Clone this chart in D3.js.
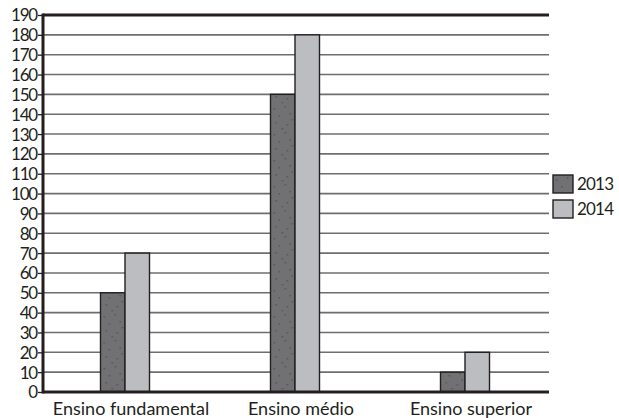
<!DOCTYPE html>
<html><head><meta charset="utf-8">
<script src="https://cdn.jsdelivr.net/npm/d3@7/dist/d3.min.js"></script>
<style>body{margin:0;background:#fff}svg{display:block}text{font-family:Lato,"Open Sans",sans-serif;fill:#231f20}</style>
</head><body><svg id="c" width="619" height="418"></svg>
<script>
const categories = ["Ensino fundamental", "Ensino médio", "Ensino superior"];
const series = ["2013", "2014"];
const values2013 = [50, 150, 10];
const values2014 = [70, 180, 20];
const yTicks = d3.range(0, 191, 10);

const svg = d3.select("#c");
const defs = svg.append("defs");
const pat = defs.append("pattern").attr("id","speck").attr("patternUnits","userSpaceOnUse").attr("width",24).attr("height",26);
pat.append("rect").attr("width",24).attr("height",26).attr("fill","#717173");
[[3,4],[14,2],[8,11],[19,9],[5,18],[16,20],[11,24],[21,15]].forEach(p=>pat.append("rect").attr("x",p[0]).attr("y",p[1]).attr("width",1.5).attr("height",1.5).attr("fill","#545456"));
const colors = {"2013":"url(#speck)","2014":"#bcbdc0"};

const y = d3.scaleLinear().domain([0,190]).range([392,15]);
const x0 = d3.scaleBand().domain(categories).range([40,550]);
const x1 = d3.scaleBand().domain(series).range([0,49]);
const left = 43, right = 549;

// grid
svg.append("g").selectAll("line").data(yTicks.filter(d=>d>0 && d<190)).join("line")
  .attr("x1",left).attr("x2",right).attr("y1",d=>y(d)).attr("y2",d=>y(d))
  .attr("stroke","#6d6e70").attr("stroke-width",1.6);
svg.append("line").attr("x1",left).attr("x2",right).attr("y1",y(190)).attr("y2",y(190)).attr("stroke","#231f20").attr("stroke-width",3);

// bars
const data = categories.map((c,i)=>({c, vals:[{s:"2013",v:values2013[i]},{s:"2014",v:values2014[i]}]}));
const g = svg.append("g").selectAll("g").data(data).join("g")
  .attr("transform",d=>`translate(${x0(d.c)+x0.bandwidth()/2-24.5},0)`);
g.selectAll("rect").data(d=>d.vals).join("rect")
  .attr("x",d=>x1(d.s)).attr("width",x1.bandwidth())
  .attr("y",d=>y(d.v)).attr("height",d=>y(0)-y(d.v))
  .attr("fill",d=>colors[d.s]).attr("stroke","#231f20").attr("stroke-width",1.4);

// y axis
const yAxis = d3.axisLeft(y).tickValues(yTicks).tickSize(5).tickPadding(1);
const ya = svg.append("g").attr("transform",`translate(${left},0)`).call(yAxis);
ya.select(".domain").remove();
ya.selectAll(".tick line").attr("stroke","#231f20").attr("stroke-width",1.3);
ya.selectAll(".tick text").attr("font-size",17).attr("letter-spacing",-1.2).attr("font-family","Lato").attr("fill","#231f20").attr("dy","0.35em");
svg.append("line").attr("x1",left).attr("x2",left).attr("y1",13.5).attr("y2",393.5).attr("stroke","#231f20").attr("stroke-width",3);
svg.append("line").attr("x1",left).attr("x2",right).attr("y1",y(0)).attr("y2",y(0)).attr("stroke","#231f20").attr("stroke-width",3);

// x axis labels
const xAxis = d3.axisBottom(x0).tickSize(0).tickPadding(10);
const xa = svg.append("g").attr("transform",`translate(6,${y(0)})`).call(xAxis);
xa.select(".domain").remove();
xa.selectAll(".tick text").attr("font-size",18).attr("letter-spacing",0).attr("font-family","Lato").attr("fill","#231f20");

// legend
const leg = svg.append("g").selectAll("g").data(series).join("g")
  .attr("transform",(d,i)=>`translate(553,${175+i*25})`);
leg.append("rect").attr("width",20).attr("height",18).attr("fill",d=>colors[d]).attr("stroke","#231f20").attr("stroke-width",1.4);
leg.append("text").attr("x",24).attr("y",15).attr("font-size",17).attr("letter-spacing",-0.8).text(d=>d);
</script></body></html>
